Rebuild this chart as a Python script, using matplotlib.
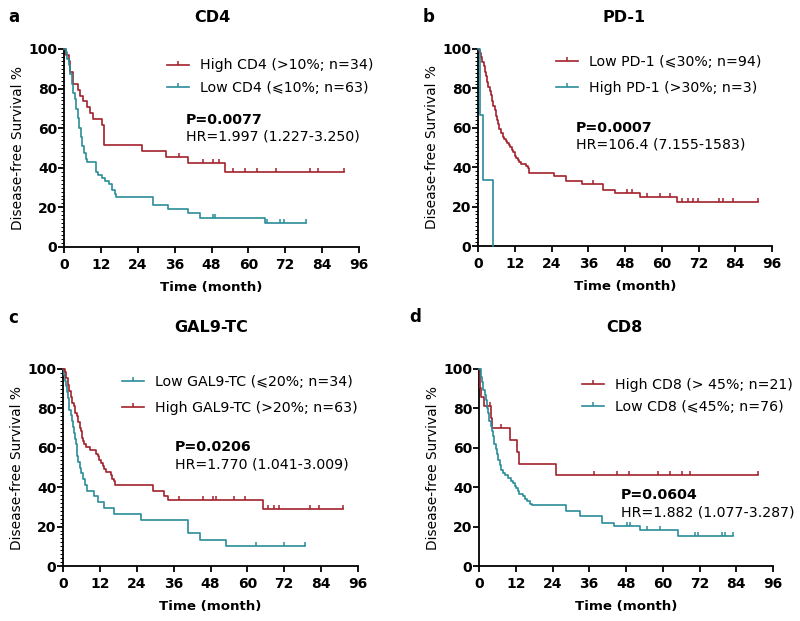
import numpy as np
import matplotlib
matplotlib.use('Agg')
import matplotlib.pyplot as plt
from matplotlib.path import Path
from matplotlib.lines import Line2D

plt.rcParams['font.family'] = ['DejaVu Sans']

RED = '#A2212B'
TEAL = '#2A8C9A'

# ---------------- Panel a: CD4 ----------------
a_hi_t = [0, 0.8, 1.5, 2.0, 2.8, 4.7, 5.2, 6.1, 7.4, 8.5, 9.3, 12.3, 12.9, 25.3, 33.1, 40.5, 52.4]
a_hi_s = [100, 97.1, 94.1, 88.2, 82.4, 79.4, 76.5, 73.5, 70.6, 67.6, 64.7, 61.8, 51.5, 48.6, 45.4, 42.4, 37.9]
a_hi_c = [37.4, 45.3, 48.6, 50.5, 55.1, 58.9, 62.7, 69.0, 80.0, 82.8]
a_hi_end = 91.2
a_lo_t = [0, 0.5, 1.0, 1.5, 2.0, 2.5, 3.0, 3.5, 4.0, 4.5, 5.0, 5.5, 6.0, 6.5, 7.0, 7.5, 10.5, 11.0,
          12.5, 13.5, 14.5, 15.5, 16.5, 17.0, 29.0, 34.0, 40.5, 44.3, 65.4]
a_lo_s = [100, 98.4, 95.2, 92.1, 87.3, 82.5, 77.8, 74.6, 69.8, 65.1, 60.3, 55.6, 50.8, 47.6, 44.4, 42.9, 38.1, 36.5,
          34.9, 33.3, 31.7, 28.6, 27.0, 25.4, 21.1, 19.0, 17.0, 14.8, 12.3]
a_lo_c = [48.6, 49.2, 66.0, 70.3, 71.7]
a_lo_end = 78.8

# ---------------- Panel b: PD-1 ----------------
b_lo_t = [0, 0.3, 0.6, 1.0, 1.4, 1.8, 2.2, 2.6, 3.0, 3.4, 3.8, 4.2, 4.6, 5.0, 5.4, 5.8, 6.2, 6.6, 7.0, 7.5,
          8.0, 8.5, 9.0, 9.5, 10.0, 10.5, 11.0, 11.5, 12.0, 12.5, 13.0, 13.5, 14.0, 15.8, 16.3, 16.8, 24.7,
          28.7, 34.0, 40.8, 44.8, 52.9, 65.1]
b_lo_s = [100, 98.9, 97.9, 95.7, 93.6, 91.5, 88.3, 86.2, 83.0, 80.9, 78.7, 76.6, 73.4, 71.3, 69.1, 66.0, 63.8,
          61.7, 59.6, 57.4, 55.3, 54.3, 53.2, 52.1, 51.1, 50.0, 48.9, 47.9, 45.7, 44.7, 43.6, 42.6, 41.5, 40.4,
          39.4, 37.2, 35.6, 33.0, 31.5, 28.4, 27.1, 25.0, 22.2]
b_lo_c = [37.7, 48.6, 50.2, 55.1, 59.3, 62.7, 66.5, 68.6, 70.3, 71.9, 78.8, 79.9, 83.2]
b_lo_end = 91.4
b_hi_t = [0, 0.7, 1.6, 4.8]
b_hi_s = [100, 66.7, 33.3, 0]
b_hi_c = []
b_hi_end = 4.8

# ---------------- Panel c: GAL9-TC ----------------
c_lo_t = [0, 0.3, 0.6, 0.9, 1.2, 1.5, 1.8, 2.1, 2.5, 2.9, 3.2, 3.5, 3.8, 4.1, 4.4, 4.7, 5.0, 5.5, 6.0,
          6.6, 7.2, 7.8, 10.0, 11.5, 13.5, 16.5, 25.3, 40.7, 44.5, 53.1]
c_lo_s = [100, 97.1, 94.1, 91.2, 88.2, 85.3, 82.4, 79.4, 76.5, 73.5, 70.6, 67.6, 64.7, 61.8, 58.8, 55.9,
          52.9, 50.0, 47.1, 44.1, 41.2, 38.2, 35.3, 32.4, 29.4, 26.5, 23.2, 16.6, 13.2, 9.9]
c_lo_c = [62.7, 71.8]
c_lo_end = 78.7
c_hi_t = [0, 0.5, 1.0, 1.5, 2.0, 2.5, 3.0, 3.5, 4.0, 4.5, 5.0, 5.5, 5.8, 6.1, 6.4, 6.8, 7.5, 8.7, 10.8,
          11.3, 11.8, 12.5, 13.0, 13.5, 14.0, 15.5, 16.0, 16.5, 17.0, 29.3, 33.0, 34.2, 65.1]
c_hi_s = [100, 98.4, 95.2, 92.1, 88.9, 85.7, 82.5, 81.0, 77.8, 76.2, 73.0, 69.8, 68.3, 65.1, 63.5, 61.9,
          60.3, 58.7, 57.1, 55.6, 54.0, 52.4, 50.8, 49.2, 47.6, 46.0, 44.4, 42.9, 41.3, 38.0, 35.6, 33.5, 28.8]
c_hi_c = [37.6, 45.5, 48.9, 49.7, 55.5, 59.1, 66.8, 68.7, 70.3, 80.3, 83.3]
c_hi_end = 91.2

# ---------------- Panel d: CD8 ----------------
d_hi_t = [0, 0.2, 0.4, 0.8, 1.5, 3.9, 4.4, 10.2, 12.4, 12.9, 25.0]
d_hi_s = [100, 95.2, 90.5, 85.7, 81.0, 75.3, 69.8, 63.8, 58.0, 52.0, 46.3]
d_hi_c = [3.7, 7.1, 37.4, 45.0, 49.0, 58.6, 62.4, 66.2, 68.9]
d_hi_end = 91.2
d_lo_t = [0, 0.5, 0.8, 1.1, 1.4, 1.8, 2.2, 2.6, 3.0, 3.4, 3.8, 4.2, 4.6, 5.0, 5.4, 5.8, 6.3, 6.8, 7.3, 7.9,
          8.5, 9.5, 10.5, 11.0, 11.6, 12.0, 12.6, 13.2, 14.3, 15.0, 15.8, 16.5, 17.2, 28.4, 33.0, 40.0, 44.0,
          52.6, 65.1]
d_lo_s = [100, 98.7, 96.1, 93.4, 89.5, 86.8, 84.2, 80.3, 77.6, 73.7, 71.1, 68.4, 65.8, 61.8, 59.2, 56.6,
          53.9, 51.3, 48.7, 47.4, 46.1, 44.7, 43.4, 42.1, 40.8, 39.5, 38.2, 36.8, 35.5, 34.2, 32.9, 31.6, 30.8,
          27.9, 25.2, 21.8, 20.4, 18.3, 15.1]
d_lo_c = [48.3, 49.3, 54.8, 59.1, 70.5, 71.6, 79.2, 80.3]
d_lo_end = 83.0

x_ticks = [0, 12, 24, 36, 48, 60, 72, 84, 96]
y_ticks = [0, 20, 40, 60, 80, 100]

TICK = Path([(0, 0), (0, 1)])

W, H = 800, 621
fig = plt.figure(figsize=(W / 100, H / 100), dpi=100)


def fx(x):
    return x / W


def fy(y):
    return 1 - y / H


def km(ax, t, s, cens, end, color):
    xs = list(t) + [end]
    ys = list(s) + [s[-1]]
    ax.step(xs, ys, where='post', color=color, lw=1.2, clip_on=False, zorder=3)
    if cens:
        tt = np.array(t)
        idx = np.searchsorted(tt, np.array(cens), side='right') - 1
        cy = np.array(s)[idx]
        ax.plot(cens, cy, ls='none', marker=TICK, markersize=6, mec=color, mew=1.1,
                clip_on=False, zorder=3)
    if s[-1] > 0:
        ax.plot([end], [s[-1]], ls='none', marker=TICK, markersize=6, mec=color, mew=1.1,
                clip_on=False, zorder=3)


panels = [
    dict(rect=(64, 49, 359, 247), letter='a', lpos=(14, 17), title='CD4', tpos=(212, 18),
         series=[(a_hi_t, a_hi_s, a_hi_c, a_hi_end, RED, 'High CD4 (>10%; n=34)'),
                 (a_lo_t, a_lo_s, a_lo_c, a_lo_end, TEAL, 'Low CD4 (⩽10%; n=63)')],
         leg=(167, 58.5), ls=0.6, ptxt='P=0.0077', hr='HR=1.997 (1.227-3.250)', ppos=(186, 120),
         hrgap=17, minor=True),
    dict(rect=(478, 49, 772, 246), letter='b', lpos=(429, 17), title='PD-1', tpos=(624, 18),
         series=[(b_lo_t, b_lo_s, b_lo_c, b_lo_end, RED, 'Low PD-1 (⩽30%; n=94)'),
                 (b_hi_t, b_hi_s, b_hi_c, b_hi_end, TEAL, 'High PD-1 (>30%; n=3)')],
         leg=(556, 54.5), ls=0.85, ptxt='P=0.0007', hr='HR=106.4 (7.155-1583)', ppos=(576, 128),
         hrgap=17, minor=True),
    dict(rect=(63, 369, 358, 566), letter='c', lpos=(13, 318), title='GAL9-TC', tpos=(211, 328),
         series=[(c_lo_t, c_lo_s, c_lo_c, c_lo_end, TEAL, 'Low GAL9-TC (⩽20%; n=34)'),
                 (c_hi_t, c_hi_s, c_hi_c, c_hi_end, RED, 'High GAL9-TC (>20%; n=63)')],
         leg=(122, 374.5), ls=0.85, ptxt='P=0.0206', hr='HR=1.770 (1.041-3.009)', ppos=(175, 447),
         hrgap=18, minor=True),
    dict(rect=(479, 369, 773, 566), letter='d', lpos=(415, 317), title='CD8', tpos=(624, 328),
         series=[(d_hi_t, d_hi_s, d_hi_c, d_hi_end, RED, 'High CD8 (> 45%; n=21)'),
                 (d_lo_t, d_lo_s, d_lo_c, d_lo_end, TEAL, 'Low CD8 (⩽45%; n=76)')],
         leg=(582, 377.5), ls=0.62, ptxt='P=0.0604', hr='HR=1.882 (1.077-3.287)', ppos=(621, 495),
         hrgap=17, minor=False),
]

for p in panels:
    x0, y0, x1, y1 = p['rect']
    ax = fig.add_axes([fx(x0), fy(y1), (x1 - x0) / W, (y1 - y0) / H])
    for (t, s, c, e, col, lab) in p['series']:
        km(ax, t, s, c, e, col)
    ax.set_xlim(0, 96)
    ax.set_ylim(0, 100)
    ax.set_xticks(x_ticks)
    ax.set_yticks(y_ticks)
    for sp in ['top', 'right']:
        ax.spines[sp].set_visible(False)
    for sp in ['left', 'bottom']:
        ax.spines[sp].set_linewidth(1.3)
    ax.tick_params(axis='both', which='major', length=4, width=1.3, labelsize=10)
    ax.tick_params(axis='x', which='major', pad=4)
    ax.tick_params(axis='y', which='major', pad=0.8)
    if p['minor']:
        ax.set_yticks(np.arange(0, 101, 2), minor=True)
        ax.tick_params(axis='y', which='minor', length=2, width=0.7)
    for lbl in ax.get_xticklabels() + ax.get_yticklabels():
        lbl.set_fontweight('bold')
    ax.set_xlabel('Time (month)', fontsize=9.6, fontweight='bold', labelpad=6.5)
    ax.set_ylabel('Disease-free Survival %', fontsize=9.9, labelpad=2.5)

    fig.text(fx(p['lpos'][0]), fy(p['lpos'][1]), p['letter'], fontsize=12, fontweight='bold',
             ha='center', va='center')
    fig.text(fx(p['tpos'][0]), fy(p['tpos'][1]), p['title'], fontsize=11.5, fontweight='bold',
             ha='center', va='center')

    handles = [Line2D([0], [0], color=col, lw=1.2, marker=TICK, markersize=6, mec=col, mew=1.1)
               for (_, _, _, _, col, _) in p['series']]
    labels = [lab for (*_, lab) in p['series']]
    ax.legend(handles, labels, loc='upper left', bbox_to_anchor=(fx(p['leg'][0]), fy(p['leg'][1])),
              bbox_transform=fig.transFigure, frameon=False, fontsize=10.2, borderpad=0,
              borderaxespad=0, handlelength=1.55, handletextpad=0.75, labelspacing=p['ls'], numpoints=1)
    fig.text(fx(p['ppos'][0]), fy(p['ppos'][1]), p['ptxt'], fontsize=10.2, fontweight='bold',
             ha='left', va='center')
    fig.text(fx(p['ppos'][0]), fy(p['ppos'][1] + p['hrgap']), p['hr'], fontsize=10.2,
             ha='left', va='center')

fig.savefig('out.png', dpi=100)
